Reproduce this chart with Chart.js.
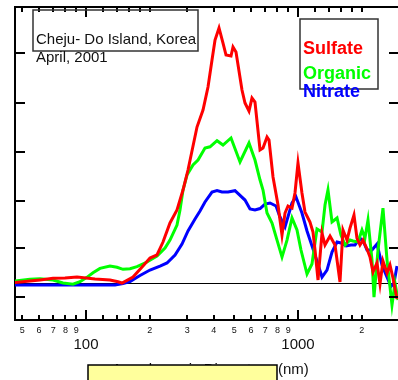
<!DOCTYPE html>
<html>
<head>
<meta charset="utf-8">
<script src="https://cdn.jsdelivr.net/npm/chart.js@4.4.1/dist/chart.umd.min.js"></script>
<style>
  html, body { margin: 0; padding: 0; background: #fff; overflow: hidden; }
  canvas { display: block; }
</style>
</head>
<body>
<canvas id="sizeChart" width="398" height="380"></canvas>
<script>
// --- DATOS ---
const dpSulfate = [45.7, 54.4, 60.7, 69.9, 79.6, 90.7, 100, 110.3, 129.8, 141.6, 147.9, 166.6, 185.7, 200.4, 216.2, 230.8, 249.0, 268.7, 286.8, 302.8, 333.9, 356.4, 376.3, 393.0, 406.1, 424.1, 442.9, 457.6, 483.1, 493.7, 510.0, 544.3, 562.3, 587.3, 606.7, 626.8, 662.1, 683.9, 714.3, 729.9, 762.4, 804.9, 840.6, 868.5, 897.2, 937.1, 967.9, 1000, 1044, 1079, 1139, 1177, 1203, 1243, 1298, 1341, 1416, 1495, 1578, 1630, 1703, 1759, 1837, 1897, 1961, 2026, 2116, 2186, 2259, 2359, 2437, 2517, 2630, 2716, 2806, 2931];
const sulfate = [0.0, 0.15, 0.26, 0.43, 0.46, 0.56, 0.46, 0.36, 0.26, 0.08, -0.05, 0.56, 1.69, 2.51, 2.82, 4.15, 6.10, 7.43, 9.48, 11.53, 15.93, 17.67, 20.03, 22.80, 24.85, 26.08, 24.54, 23.31, 23.21, 24.13, 23.62, 19.72, 18.39, 17.57, 18.90, 18.49, 13.58, 13.78, 14.91, 14.60, 10.81, 7.94, 4.87, 7.12, 7.84, 7.63, 9.17, 12.24, 9.17, 7.22, 6.20, 5.17, 3.33, 0.26, 5.07, 3.84, 4.76, 3.84, 0.05, 5.38, 4.35, 5.58, 6.92, 4.56, 3.84, 4.35, 3.43, 2.61, 1.08, 2.00, -0.15, 2.20, 0.97, 1.79, 0.46, -1.69];

const dpOrganic = [45.7, 54.4, 60.7, 69.9, 77.9, 86.8, 93.7, 101, 107.9, 116.4, 129.8, 140.0, 149.5, 161.3, 174.0, 194.0, 216.2, 235.9, 249.0, 268.7, 277.6, 286.8, 299.5, 319.7, 337.6, 364.2, 384.6, 415.0, 442.9, 483.1, 532.7, 587.3, 626.8, 662.1, 683.9, 714.3, 754.2, 796.3, 840.6, 887.5, 937.1, 989.2, 1033, 1103, 1164, 1229, 1298, 1341, 1385, 1447, 1528, 1595, 1667, 1759, 1817, 1919, 2004, 2070, 2139, 2234, 2283, 2385, 2517, 2630, 2776, 2868, 2963];
const organic = [0.15, 0.33, 0.39, 0.26, -0.05, -0.18, 0.08, 0.53, 1.00, 1.45, 1.69, 1.56, 1.35, 1.41, 1.62, 2.10, 2.72, 3.53, 4.35, 5.89, 7.43, 9.48, 11.01, 12.04, 12.55, 13.78, 13.91, 14.53, 14.09, 14.81, 12.35, 14.29, 12.55, 10.50, 9.48, 7.12, 6.10, 4.35, 2.61, 4.35, 6.61, 5.38, 3.33, 0.87, 1.90, 5.48, 5.17, 7.94, 9.48, 6.20, 6.61, 4.87, 3.84, 4.35, 4.25, 4.15, 5.38, 4.56, 6.40, 2.30, -1.49, 3.33, 7.63, 2.30, -2.31, -0.05, -1.79];

const dpNitrate = [45.7, 60.7, 93.7, 137.0, 149.5, 161.3, 179.8, 200.4, 223.4, 241.1, 263.0, 283.7, 302.8, 326.8, 345.0, 364.2, 393.0, 415.0, 438.0, 467.6, 504.5, 562.3, 593.7, 626.8, 662.1, 698.9, 737.9, 787.7, 822.6, 868.5, 937.1, 978.6, 1044, 1103, 1152, 1216, 1298, 1370, 1447, 1528, 1595, 1685, 1778, 1857, 1961, 2048, 2116, 2234, 2359, 2490, 2630, 2746, 2837, 2931];
const nitrate = [-0.26, -0.26, -0.26, -0.26, -0.10, 0.10, 0.72, 1.28, 1.69, 2.00, 2.82, 3.94, 5.28, 6.51, 7.33, 8.25, 9.27, 9.43, 9.27, 9.27, 9.41, 8.45, 7.53, 7.43, 7.58, 8.04, 8.15, 7.84, 6.71, 5.69, 8.15, 8.76, 7.12, 5.28, 4.05, 2.51, 0.56, 1.28, 3.13, 4.15, 4.05, 3.74, 3.84, 3.84, 4.56, 4.05, 3.33, 3.33, 3.94, 1.79, 0.56, -0.41, -0.05, 1.69];

const xTicks = [50, 60, 70, 80, 90, 100, 120, 140, 160, 180, 200, 300, 400, 500, 600, 700, 800, 900, 1000, 1200, 1400, 1600, 1800, 2000];
const xTickLabels = ['5', '6', '7', '8', '9', '100', '', '', '', '', '2', '3', '4', '5', '6', '7', '8', '9', '1000', '', '', '', '', '2'];
const xMajor = [100, 1000];
const yTicks = [-1.5, 3.5, 8.4, 13.4, 18.4, 23.5];

const FONT = "'Liberation Sans', Arial, sans-serif";
Chart.defaults.font.family = FONT;

const toPoints = (xs, ys) => xs.map((x, i) => ({ x: x, y: ys[i] }));

// --- DECORACION: ejes con marcas hacia adentro, linea cero, cuadros de texto ---
const framePlugin = {
    id: 'frame',
    beforeDatasetsDraw(chart) {
        const { ctx, chartArea: a, scales: { y } } = chart;
        const y0 = Math.round(y.getPixelForValue(0)) + 0.5;
        ctx.save();
        ctx.strokeStyle = '#000';
        ctx.lineWidth = 1;
        ctx.beginPath();
        ctx.moveTo(a.left, y0);
        ctx.lineTo(a.right, y0);
        ctx.stroke();
        ctx.restore();
    },
    afterDraw(chart) {
        const { ctx, chartArea: a, scales: { x, y } } = chart;
        ctx.save();
        ctx.strokeStyle = '#000';
        ctx.lineWidth = 2;

        // linea superior
        ctx.beginPath();
        ctx.moveTo(a.left - 1, a.top);
        ctx.lineTo(a.right, a.top);
        ctx.stroke();

        // marcas eje X (abajo y arriba)
        ctx.beginPath();
        x.ticks.forEach(t => {
            const px = Math.round(x.getPixelForValue(t.value));
            const len = xMajor.includes(t.value) ? 10 : 5;
            ctx.moveTo(px, a.bottom);
            ctx.lineTo(px, a.bottom - len);
            ctx.moveTo(px, a.top);
            ctx.lineTo(px, a.top + len);
        });
        // marcas eje Y (izquierda y derecha)
        y.ticks.forEach(t => {
            const py = Math.round(y.getPixelForValue(t.value));
            ctx.moveTo(a.left, py);
            ctx.lineTo(a.left + 10, py);
            ctx.moveTo(a.right - 9, py);
            ctx.lineTo(a.right, py);
        });
        ctx.stroke();

        // cuadro de sitio
        ctx.lineWidth = 1.5;
        ctx.strokeStyle = '#333';
        ctx.strokeRect(33, 10, 165, 41);
        ctx.fillStyle = '#111';
        ctx.font = '15px ' + FONT;
        ctx.textBaseline = 'alphabetic';
        ctx.textAlign = 'left';
        ctx.fillText('Cheju- Do Island, Korea', 36, 44);
        ctx.fillText('April, 2001', 36, 62);

        // leyenda
        ctx.strokeRect(300, 19, 78, 70);
        const baselines = [54, 79, 97];
        ctx.font = 'bold 18px ' + FONT;
        chart.data.datasets.forEach((ds, i) => {
            ctx.fillStyle = ds.borderColor;
            ctx.fillText(ds.label, 303, baselines[i]);
        });

        // titulo eje X, tapado en parte por el recuadro amarillo
        ctx.fillStyle = '#111';
        ctx.font = '15px ' + FONT;
        ctx.fillText('Aerodynamic Diameter', 112, 374);
        ctx.fillText('(nm)', 278, 374);
        ctx.fillStyle = '#ffff9c';
        ctx.fillRect(88, 365, 189, 20);
        ctx.strokeStyle = '#000';
        ctx.lineWidth = 1.5;
        ctx.strokeRect(88, 365, 189, 20);
        ctx.restore();
    }
};

new Chart(document.getElementById('sizeChart'), {
    type: 'line',
    data: {
        datasets: [
            { label: 'Sulfate', data: toPoints(dpSulfate, sulfate), borderColor: '#ff0000', borderWidth: 3, pointRadius: 0, tension: 0, fill: false },
            { label: 'Organic', data: toPoints(dpOrganic, organic), borderColor: '#00ff00', borderWidth: 3, pointRadius: 0, tension: 0, fill: false },
            { label: 'Nitrate', data: toPoints(dpNitrate, nitrate), borderColor: '#0000ff', borderWidth: 3, pointRadius: 0, tension: 0, fill: false }
        ]
    },
    options: {
        responsive: false,
        devicePixelRatio: 1,
        animation: false,
        layout: { padding: { top: 7, right: 0, left: 0, bottom: 0 } },
        plugins: { legend: { display: false }, tooltip: { enabled: false } },
        scales: {
            x: {
                type: 'logarithmic',
                min: 46.25,
                max: 2963,
                bounds: 'data',
                grid: { display: false, drawTicks: false },
                border: { display: true, color: '#000', width: 2 },
                afterBuildTicks: s => { s.ticks = xTicks.map(v => ({ value: v })); },
                afterFit: s => { s.height = 60; },
                ticks: {
                    autoSkip: false,
                    maxRotation: 0,
                    minRotation: 0,
                    padding: 5,
                    color: '#111',
                    font: c => (c.tick && xMajor.includes(c.tick.value)) ? { size: 15, lineHeight: 2.6 } : { size: 9 },
                    callback: v => xTickLabels[xTicks.indexOf(v)]
                }
            },
            y: {
                min: -3.84,
                max: 28.23,
                grid: { display: false, drawTicks: false },
                border: { display: true, color: '#000', width: 2 },
                afterBuildTicks: s => { s.ticks = yTicks.map(v => ({ value: v })); },
                afterFit: s => { s.width = 15; },
                ticks: { display: false }
            }
        }
    },
    plugins: [framePlugin]
});
</script>
</body>
</html>
